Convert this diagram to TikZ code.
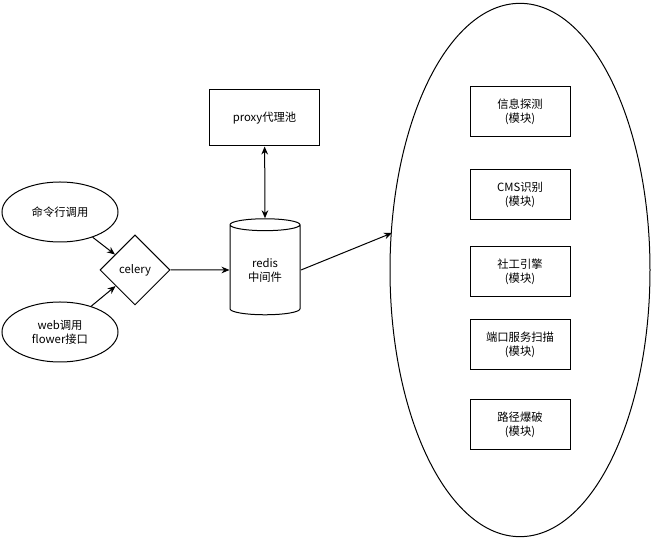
\documentclass[tikz,border=0pt]{standalone}
\usepackage{fontspec}
\setmainfont{Noto Sans CJK SC}
\usetikzlibrary{shapes.geometric,arrows.meta}
\begin{document}
\begin{tikzpicture}[x=0.75pt,y=-0.75pt,font=\fontsize{8.5pt}{10.5pt}\selectfont,
  every path/.style={line width=0.75pt},
  arr/.style={-{Stealth[length=6pt,width=5pt]}},
  mod/.style={draw,minimum width=75pt,minimum height=37.5pt,align=center,inner sep=0pt},
  oval/.style={draw,ellipse,minimum width=87pt,minimum height=45pt,align=center,inner sep=0pt}]
\useasboundingbox (0,0) rectangle (651,541);
\node[oval] (cmd) at (60,212) {命令行调用};
\node[oval] (web) at (60,332) {web调用\\flower接口};
\node[draw,diamond,minimum width=52.5pt,minimum height=52.5pt,inner sep=0pt,aspect=1] (cel) at (135,270) {celery};
\node[draw,cylinder,shape border rotate=90,aspect=0.35,minimum width=52.5pt,minimum height=72pt,align=center,inner sep=0pt] (redis) at (265,270) {redis\\中间件};
\node[draw,minimum width=83pt,minimum height=42pt] (proxy) at (264.5,118) {proxy代理池};
\node[draw,ellipse,minimum width=195pt,minimum height=400pt,inner sep=0pt] (big) at (520,270) {};
\node[mod] (m1) at (520,112) {信息探测\\(模块)};
\node[mod] (m2) at (520,195) {CMS识别\\(模块)};
\node[mod] (m3) at (520,272) {社工引擎\\(模块)};
\node[mod] (m4) at (520,345) {端口服务扫描\\(模块)};
\node[mod] (m5) at (520,425) {路径爆破\\(模块)};
\draw[arr] (cmd) -- (cel);
\draw[arr] (web) -- (cel);
\draw[arr] (cel) -- (redis);
\draw[{Stealth[length=6pt,width=5pt]}-{Stealth[length=6pt,width=5pt]}] (redis.top) -- (proxy);
\draw[arr] (redis.east) ++(0,0) coordinate (rs) (301,270) -- (392,233);
\end{tikzpicture}
\end{document}
